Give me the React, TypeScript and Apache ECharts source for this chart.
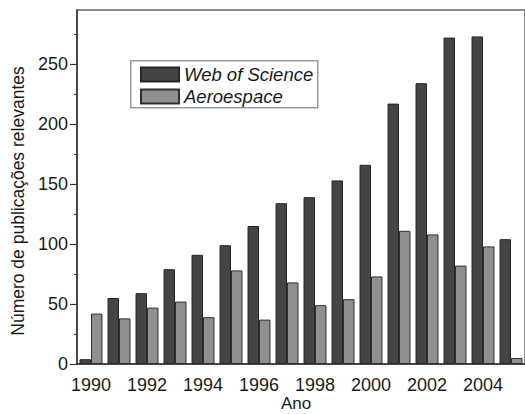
import React, { useEffect, useRef } from "react";
import * as echarts from "echarts";

const years = ["1990","1991","1992","1993","1994","1995","1996","1997","1998","1999","2000","2001","2002","2003","2004","2005"];
const webOfScience = [4, 55, 59, 79, 91, 99, 115, 134, 139, 153, 166, 217, 234, 272, 273, 104];
const aeroespace = [42, 38, 47, 52, 39, 78, 37, 68, 49, 54, 73, 111, 108, 82, 98, 5];
const yTicks = [0, 50, 100, 150, 200, 250];

const FONT = "'Liberation Sans', Arial, sans-serif";

export default function App() {
  const ref = useRef<HTMLDivElement>(null);
  useEffect(() => {
    if (!ref.current) return;
    const chart = echarts.init(ref.current, null, { renderer: "svg" });
    chart.setOption({
      animation: false,
      backgroundColor: "#ffffff",
      grid: {
        left: 77,
        top: 10,
        right: -1,
        bottom: 50,
        show: true,
        borderColor: "#666",
        borderWidth: 1.5,
        backgroundColor: "transparent",
      },
      legend: {
        orient: "vertical",
        left: 140,
        top: 65,
        padding: 0,
        itemWidth: 38,
        itemHeight: 14,
        itemGap: 3,
        icon: "rect",
        data: ["Web of Science", "Aeroespace"],
        textStyle: {
          fontFamily: FONT,
          fontSize: 18.5,
          fontStyle: "italic",
          color: "#1a1a1a",
        },
      },
      xAxis: {
        type: "category",
        data: years,
        boundaryGap: true,
        axisLine: { lineStyle: { color: "#333", width: 1.5 } },
        axisTick: { alignWithLabel: true, interval: 0, length: 6, lineStyle: { color: "#333", width: 1.2 } },
        axisLabel: {
          interval: 1,
          fontFamily: FONT,
          fontSize: 18,
          color: "#1a1a1a",
          margin: 12,
        },
      },
      yAxis: {
        type: "value",
        min: 0,
        max: 295,
        interval: 50,
        splitLine: { show: false },
        axisLine: { show: true, lineStyle: { color: "#333", width: 1.5 } },
        axisTick: { show: true, length: 7, customValues: yTicks, lineStyle: { color: "#333", width: 1.2 } },
        minorTick: { show: true, splitNumber: 2, length: 3, lineStyle: { color: "#333", width: 1.2 } },
        axisLabel: {
          customValues: yTicks,
          fontFamily: FONT,
          fontSize: 18,
          color: "#1a1a1a",
          margin: 9,
        },
      },
      graphic: [
        {
          type: "rect",
          left: 130,
          top: 60,
          shape: { width: 187, height: 47 },
          style: { fill: "transparent", stroke: "#999", lineWidth: 1.5 },
          z: 10,
        },
        {
          type: "text",
          x: 18,
          y: 201,
          rotation: Math.PI / 2,
          style: {
            text: "Número de publicações relevantes",
            fontFamily: FONT,
            fontSize: 17.5,
            fill: "#1a1a1a",
            textAlign: "center",
            textVerticalAlign: "middle",
          },
        },
        {
          type: "text",
          x: 296,
          y: 403,
          style: {
            text: "Ano",
            fontFamily: FONT,
            fontSize: 17,
            fill: "#1a1a1a",
            textAlign: "center",
            textVerticalAlign: "middle",
          },
        },
      ],
      series: [
        {
          name: "Web of Science",
          type: "bar",
          data: webOfScience,
          barGap: "0%",
          barCategoryGap: "18%",
          itemStyle: { color: "#454545", borderColor: "#262626", borderWidth: 1 },
        },
        {
          name: "Aeroespace",
          type: "bar",
          data: aeroespace,
          barGap: "0%",
          barCategoryGap: "18%",
          itemStyle: { color: "#8f8f8f", borderColor: "#303030", borderWidth: 1 },
        },
      ],
    });
    return () => chart.dispose();
  }, []);
  return (
    <div
      ref={ref}
      style={{ position: "absolute", left: 0, top: 0, width: 525, height: 414 }}
    />
  );
}
